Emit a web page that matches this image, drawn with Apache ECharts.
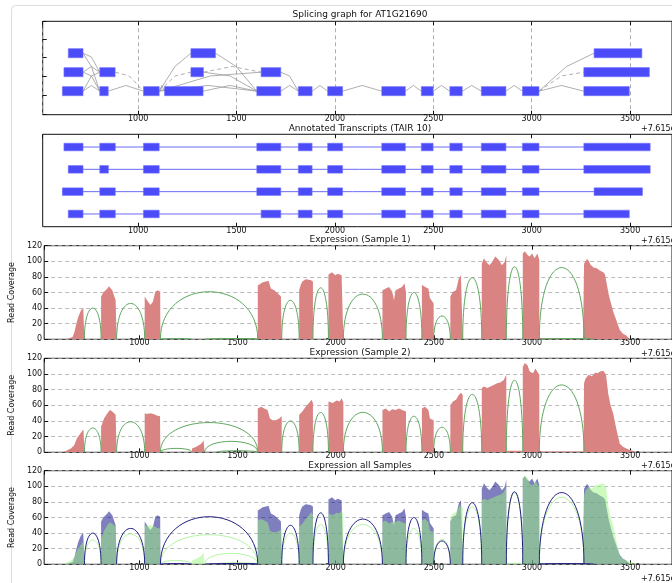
<!DOCTYPE html>
<html><head><meta charset="utf-8">
<script src="https://cdn.jsdelivr.net/npm/echarts@6/dist/echarts.min.js"></script>
<style>html,body{margin:0;padding:0;background:#fff}#c{width:672px;height:583px}</style>
</head><body><div id="c"></div>
<script>
// ---------------- data ----------------
const X_MIN = 515, X_MAX = 3713;          // genomic offset from 7.615e6
const offsetText = '+7.615e6';
const panelTitles = ['Splicing graph for AT1G21690', 'Annotated Transcripts (TAIR 10)',
  'Expression (Sample 1)', 'Expression (Sample 2)', 'Expression all Samples'];
const coverageTicks = [0, 20, 40, 60, 80, 100, 120];

// splicing graph nodes [start, end] by row (3 = top, 2 = middle, 1 = bottom)
const graphExonsTop = [[645,720],[1268,1393],[3317,3560]];
const graphExonsMid = [[623,720],[805,883],[1268,1332],[1625,1725],[3265,3598]];
const graphExonsBottom = [[615,720],[805,848],[1027,1107],[1134,1330],[1603,1725],[1814,1884],[1963,2039],
  [2238,2358],[2439,2499],[2584,2647],[2744,2869],[2953,3037],[3265,3496]];
// edges [fromPos, fromRow, toPos, toRow, dashed]
const graphEdges = [
  [720,3,805,2,0],[720,3,805,1,0],[720,2,805,2,0],[720,2,805,1,0],[720,1,805,2,0],[720,1,805,1,0],
  [883,2,1027,1,1],[848,1,1027,1,0],
  [1107,1,1268,3,0],[1107,1,1268,2,1],[1107,1,1134,1,0],[1107,1,1603,1,0],[1107,1,1625,2,0],
  [1393,3,1603,1,0],[1332,2,1625,2,1],[1332,2,1603,1,0],[1330,1,1603,1,0],
  [1725,2,1814,1,0],[1725,1,1814,1,0],
  [1884,1,1963,1,0],[2039,1,2238,1,0],[2358,1,2439,1,0],[2499,1,2584,1,0],[2647,1,2744,1,0],[2869,1,2953,1,0],
  [3037,1,3317,3,0],[3037,1,3265,2,1],[3037,1,3265,1,0]
];

// annotated transcripts (exons [start, end])
const transcript1 = [[623,720],[805,884],[1027,1107],[1603,1725],[1814,1884],[1963,2039],[2238,2358],[2439,2499],[2584,2647],[2744,2869],[2953,3037],[3265,3602]];
const transcript2 = [[645,720],[805,849],[1027,1107],[1603,1725],[1814,1884],[1963,2039],[2238,2358],[2439,2499],[2584,2647],[2744,2869],[2953,3037],[3265,3602]];
const transcript3 = [[615,720],[805,884],[1027,1107],[1603,1725],[1814,1884],[1963,2039],[2238,2358],[2439,2499],[2584,2647],[2744,2869],[2953,3037],[3317,3563]];
const transcript4 = [[645,720],[805,884],[1027,1107],[1625,1725],[1814,1884],[1963,2039],[2238,2358],[2439,2499],[2584,2647],[2744,2869],[2953,3037],[3265,3496]];

// read coverage [position, reads]
const sample1Coverage = [
  [625,0],[635,1],[660,3],[670,10],[677,18],[689,29],[702,37],[714,40],[720,40],[720,0],
  [805,0],[805,55],[812,58],[820,61],[837,65],[845,68],[854,70],[862,63],[879,50],[884,50],[884,0],
  [1027,0],[1027,55],[1039,50],[1056,44],[1069,48],[1081,61],[1093,63],[1106,61],[1107,0],
  [1603,0],[1603,69],[1615,71],[1628,73],[1645,74],[1658,75],[1664,70],[1670,65],[1680,65],[1687,63],[1704,59],[1721,55],[1725,55],[1725,0],
  [1814,0],[1814,63],[1822,70],[1830,74],[1847,77],[1872,76],[1884,74],[1884,0],
  [1963,0],[1963,83],[1981,86],[1998,82],[2010,84],[2030,82],[2039,80],[2039,0],
  [2238,0],[2238,63],[2255,65],[2272,67],[2288,61],[2297,50],[2305,63],[2322,65],[2338,67],[2350,72],[2358,61],[2358,0],
  [2439,0],[2439,70],[2455,67],[2472,65],[2480,53],[2499,46],[2499,0],
  [2584,0],[2584,55],[2597,61],[2613,63],[2627,78],[2638,82],[2647,83],[2647,0],
  [2744,0],[2744,97],[2755,104],[2767,99],[2783,95],[2797,99],[2813,106],[2830,102],[2847,95],[2860,99],[2869,108],[2869,0],
  [2953,0],[2953,110],[2963,113],[2977,108],[2988,106],[3000,110],[3013,104],[3027,110],[3037,102],[3037,1.5],
  [3260,1.5],[3265,0],[3265,97],[3280,103],[3290,100],[3297,96],[3313,92],[3330,91],[3347,88],[3363,86],[3372,83],
  [3380,72],[3390,58],[3400,48],[3413,36],[3430,24],[3447,12],[3463,7],[3480,5],[3495,1],[3500,0]
];
const sample2Coverage = [
  [613,0],[613,2],[635,3],[651,5],[668,9],[682,18],[694,22],[705,26],[715,29],[720,30],[720,0],
  [805,0],[805,33],[820,43],[837,50],[850,54],[862,52],[879,48],[884,47],[884,0],
  [1027,0],[1027,50],[1039,49],[1056,50],[1072,49],[1089,47],[1105,46],[1107,0],
  [1268,0],[1268,5],[1290,7],[1315,11],[1327,15],[1332,15],[1332,0],
  [1603,0],[1603,56],[1620,58],[1636,56],[1653,54],[1665,43],[1679,41],[1695,41],[1712,43],[1725,46],[1725,0],
  [1814,0],[1814,48],[1830,52],[1847,58],[1864,63],[1877,67],[1884,63],[1884,0],
  [1963,0],[1963,65],[1985,63],[2005,66],[2020,65],[2030,69],[2039,64],[2039,0],
  [2238,0],[2238,54],[2255,56],[2272,52],[2288,55],[2305,54],[2322,56],[2338,54],[2358,52],[2358,0],
  [2439,0],[2439,56],[2455,58],[2472,54],[2480,43],[2499,41],[2499,0],
  [2584,0],[2584,60],[2597,65],[2613,67],[2627,73],[2638,76],[2647,73],[2647,0],
  [2744,0],[2744,82],[2755,84],[2772,82],[2788,84],[2805,86],[2822,88],[2838,89],[2855,92],[2869,99],[2869,2],
  [2953,2],[2953,109],[2963,114],[2977,111],[2988,103],[3005,101],[3017,107],[3027,105],[3037,99],[3037,1],
  [3262,1],[3265,0],[3265,88],[3272,94],[3288,99],[3305,97],[3322,102],[3333,101],[3347,103],[3363,104],[3377,99],
  [3388,75],[3400,60],[3413,50],[3430,29],[3447,11],[3463,7],[3488,4],[3513,2],[3525,0]
];

// junction arcs [intronStart, intronEnd, reads]
const sample1Junctions = [[720,805,40],[884,1027,46],[1107,1603,61],[1725,1814,50],[1884,1963,66],[2039,2238,58],
  [2358,2439,60],[2499,2584,30],[2647,2744,79],[2869,2953,93],[3037,3265,92],
  [1107,1268,1],[1393,1603,1],[1332,1603,1],[3037,3317,1]];
const sample2Junctions = [[720,805,31],[884,1027,39],[1107,1603,38],[1107,1268,5],[1332,1603,14],[1393,1603,2],
  [1725,1814,40],[1884,1963,51],[2039,2238,51],[2358,2439,46],[2499,2584,32],[2647,2744,74],[2869,2953,92],[3037,3265,86]];

// ---------------- chart ----------------
const FONT = 'DejaVu Sans';
const gridBoxes = [
  {top:21.3, height:93.4}, {top:134.3, height:92.4}, {top:245.7, height:93.6},
  {top:358.3, height:94}, {top:470.7, height:93.6}
];
const LEFT = 42.7, WIDTH = 635.3;

const grids = gridBoxes.map(g => ({left:LEFT, top:g.top, width:WIDTH, height:g.height,
  show:true, borderColor:'#111', borderWidth:1, backgroundColor:'transparent'}));

const xAxes = [];
gridBoxes.forEach((g, i) => {
  xAxes.push({type:'value', gridIndex:i, position:'bottom', min:X_MIN, max:X_MAX,
    axisLine:{show:false, onZero:false},
    axisTick:{show:true, inside:true, length:4, lineStyle:{color:'#111'}},
    axisLabel:{show:true, margin:0, fontSize:8, fontFamily:FONT, color:'#111', showMinLabel:false, showMaxLabel:false,
      formatter: v => (v % 500 === 0 ? String(v) : '')},
    splitLine:{show: i === 0, lineStyle:{type:[4,3], color:'#999', width:0.8}}});
  xAxes.push({type:'value', gridIndex:i, position:'top', min:X_MIN, max:X_MAX,
    axisLine:{show:false, onZero:false},
    axisTick:{show:true, inside:true, length:4, lineStyle:{color:'#111'}},
    axisLabel:{show:false}, splitLine:{show:false}});
});

const yAxes = [
  {type:'value', gridIndex:0, min:0, max:4.92, interval:1, axisLine:{show:false},
    axisTick:{show:true, inside:true, length:4, lineStyle:{color:'#111'}}, axisLabel:{show:false}, splitLine:{show:false}},
  {type:'value', gridIndex:1, min:0.43, max:4.57, axisLine:{show:false}, axisTick:{show:false},
    axisLabel:{show:false}, splitLine:{show:false}}
];
for (let i = 2; i < 5; i++) {
  yAxes.push({type:'value', gridIndex:i, min:coverageTicks[0], max:coverageTicks[coverageTicks.length-1], interval:20,
    name:'Read Coverage', nameLocation:'middle', nameGap:19, nameRotate:90,
    nameTextStyle:{fontSize:8, fontFamily:FONT, color:'#111'},
    axisLine:{show:false},
    axisTick:{show:true, inside:true, length:4, lineStyle:{color:'#111'}},
    axisLabel:{margin:2, fontSize:8, fontFamily:FONT, color:'#111'},
    splitLine:{show:true, lineStyle:{type:[4,3], color:'#aaa', width:0.8}}});
}

const EXON_COLOR = '#4b4bfa';
function exonRender(bottomOffset, thickness) {
  return function (params, api) {
    const a = api.coord([api.value(0), api.value(2) + bottomOffset + thickness]);
    const b = api.coord([api.value(1), api.value(2) + bottomOffset]);
    return {type:'rect', shape:{x:a[0], y:a[1], width:b[0]-a[0], height:b[1]-a[1]},
      style:{fill:EXON_COLOR, stroke:'#7373ff', lineWidth:0.6}};
  };
}
function arcRender(color, width) {
  return function (params, api) {
    const s = api.value(0), e = api.value(1), h = api.value(2);
    const p1 = api.coord([s, 0]), p2 = api.coord([e, 0]);
    const c1 = api.coord([s, h * 4 / 3]), c2 = api.coord([e, h * 4 / 3]);
    return {type:'bezierCurve', shape:{x1:p1[0], y1:p1[1], x2:p2[0], y2:p2[1],
      cpx1:c1[0], cpy1:c1[1], cpx2:c2[0], cpy2:c2[1]},
      style:{fill:'none', stroke:color, lineWidth:width}};
  };
}

const graphExonData = [].concat(
  graphExonsTop.map(e => [e[0], e[1], 3]),
  graphExonsMid.map(e => [e[0], e[1], 2]),
  graphExonsBottom.map(e => [e[0], e[1], 1]));
const ROW_MID = 0.24;

const transcripts = [transcript1, transcript2, transcript3, transcript4];
const transcriptExonData = [], transcriptLineData = [];
transcripts.forEach((t, i) => {
  const row = 4 - i;
  t.forEach(e => transcriptExonData.push([e[0], e[1], row]));
  transcriptLineData.push([t[0][0], t[t.length-1][1], row]);
});

function coverageSeries(data, xi, yi, color, opacity) {
  return {type:'line', xAxisIndex:xi, yAxisIndex:yi, data:data, showSymbol:false, symbol:'none',
    lineStyle:{width:0, opacity:0}, areaStyle:{color:color, opacity:opacity}, silent:true, z:2};
}
function arcSeries(data, xi, yi, color, width, z) {
  return {type:'custom', xAxisIndex:xi, yAxisIndex:yi, data:data, encode:{x:[0,1], y:2},
    renderItem: arcRender(color, width), silent:true, z:z};
}

const series = [
  {type:'custom', xAxisIndex:0, yAxisIndex:0, data:graphEdges, encode:{x:[0,2], y:[1,3]}, silent:true, z:2,
    renderItem: function (params, api) {
      const y1 = api.value(1) + ROW_MID, y2 = api.value(3) + ROW_MID;
      const x1 = api.value(0), x2 = api.value(2);
      const pts = [api.coord([x1, y1]), api.coord([(x1 + x2) / 2, (y1 + y2) / 2 + 0.3]), api.coord([x2, y2])];
      return {type:'polyline', shape:{points:pts},
        style:{fill:'none', stroke:'#9a9a9a', lineWidth:0.8, lineDash: api.value(4) ? [4,3] : null}};
    }},
  {type:'custom', xAxisIndex:0, yAxisIndex:0, data:graphExonData, encode:{x:[0,1], y:2}, silent:true, z:3,
    renderItem: exonRender(0, 0.48)},
  {type:'custom', xAxisIndex:2, yAxisIndex:1, data:transcriptLineData, encode:{x:[0,1], y:2}, silent:true, z:2,
    renderItem: function (params, api) {
      const a = api.coord([api.value(0), api.value(2)]), b = api.coord([api.value(1), api.value(2)]);
      return {type:'line', shape:{x1:a[0], y1:a[1], x2:b[0], y2:b[1]}, style:{stroke:'#6b6bf7', lineWidth:1}};
    }},
  {type:'custom', xAxisIndex:2, yAxisIndex:1, data:transcriptExonData, encode:{x:[0,1], y:2}, silent:true, z:3,
    renderItem: exonRender(-0.17, 0.34)},
  coverageSeries(sample1Coverage, 4, 2, '#d98383', 1),
  arcSeries(sample1Junctions, 4, 2, '#5ea85e', 1, 3),
  coverageSeries(sample2Coverage, 6, 3, '#d98383', 1),
  arcSeries(sample2Junctions, 6, 3, '#5ea85e', 1, 3),
  coverageSeries(sample1Coverage, 8, 4, '#000080', 0.5),
  coverageSeries(sample2Coverage, 8, 4, '#9bf57d', 0.5),
  arcSeries(sample2Junctions, 8, 4, '#b4f5a4', 1, 3),
  arcSeries(sample1Junctions, 8, 4, '#1f1f80', 1, 4)
];

const titleY = [15, 128.5, 240, 353, 465.5];
const offsetY = [129, 241, 354, 466, 578.5];
const graphics = [
  {type:'rect', shape:{x:11.5, y:5.5, width:720, height:640, r:4}, style:{fill:'none', stroke:'#dddddd', lineWidth:1}, silent:true}
];
panelTitles.forEach((t, i) => graphics.push({type:'text', x:360, y:titleY[i], silent:true,
  style:{text:t, font:'9px "DejaVu Sans"', fill:'#111', textAlign:'center', textVerticalAlign:'middle'}}));
offsetY.forEach(y => graphics.push({type:'text', x:641, y:y, silent:true,
  style:{text:offsetText, font:'8px "DejaVu Sans"', fill:'#111', textAlign:'left', textVerticalAlign:'middle'}}));

const chart = echarts.init(document.getElementById('c'), null, {renderer:'canvas'});
chart.setOption({
  animation:false,
  backgroundColor:'#fff',
  textStyle:{fontFamily:FONT},
  grid:grids, xAxis:xAxes, yAxis:yAxes, series:series, graphic:graphics
});
</script></body></html>
